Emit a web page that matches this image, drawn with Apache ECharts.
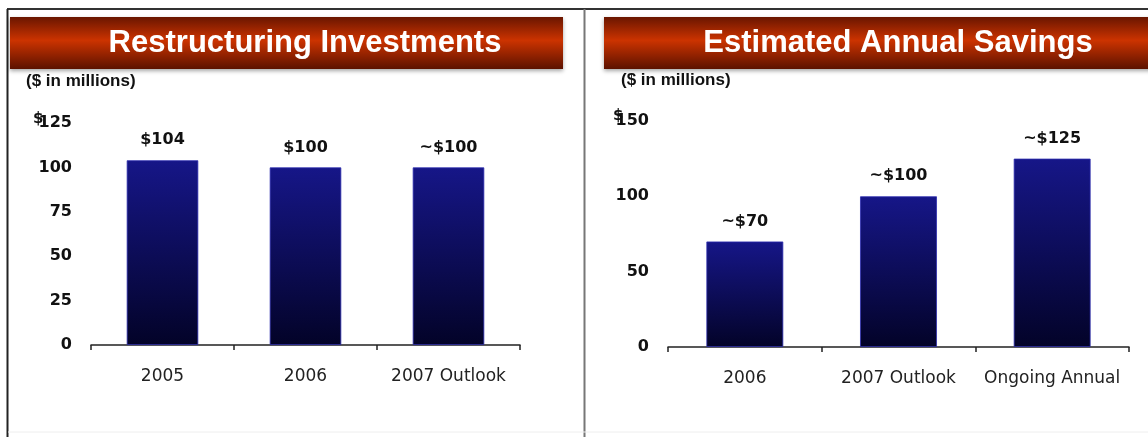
<!DOCTYPE html>
<html>
<head>
<meta charset="utf-8">
<script src="https://cdn.jsdelivr.net/npm/echarts@6/dist/echarts.min.js"></script>
<style>
  html, body { margin: 0; padding: 0; background: #ffffff; }
  #chart { width: 1148px; height: 437px; }
</style>
</head>
<body>
<div id="chart"></div>
<script>
// Restructuring investments ($ in millions)
const investCategories = ['2005', '2006', '2007 Outlook'];
const investValues = [104, 100, 100];
const investLabels = ['$104', '$100', '~$100'];
const investAxis = { min: 0, max: 125, interval: 25 };

// Estimated annual savings ($ in millions)
const savingsCategories = ['2006', '2007 Outlook', 'Ongoing Annual'];
const savingsValues = [70, 100, 125];
const savingsLabels = ['~$70', '~$100', '~$125'];
const savingsAxis = { min: 0, max: 150, interval: 50 };

const chart = echarts.init(document.getElementById('chart'), null, { renderer: 'canvas' });

const barFill = new echarts.graphic.LinearGradient(0, 0, 0, 1, [
  { offset: 0, color: '#161688' },
  { offset: 1, color: '#030328' }
]);
const headerFill = new echarts.graphic.LinearGradient(0, 0, 0, 1, [
  { offset: 0, color: '#6a1600' },
  { offset: 0.45, color: '#cc3300' },
  { offset: 1, color: '#5c1200' }
]);

const valueAxisBase = {
  type: 'value',
  splitLine: { show: false },
  axisLine: { show: false },
  axisTick: { show: false },
  axisLabel: {
    color: '#111',
    fontFamily: 'DejaVu Sans',
    fontWeight: 'bold',
    fontSize: 16,
    margin: 19
  }
};
const categoryAxisBase = {
  type: 'category',
  axisLine: { lineStyle: { color: '#222', width: 1.5 } },
  axisTick: { show: true, length: 5, inside: false, lineStyle: { color: '#222', width: 1.5 } },
  axisLabel: {
    interval: 0,
    color: '#222',
    fontFamily: 'DejaVu Sans',
    fontSize: 17,
    margin: 23
  }
};
const barLabel = (texts) => ({
  show: true,
  position: 'top',
  distance: 12,
  color: '#111',
  fontFamily: 'DejaVu Sans',
  fontWeight: 'bold',
  fontSize: 16,
  formatter: (p) => texts[p.dataIndex]
});

const option = {
  animation: false,
  backgroundColor: '#ffffff',
  grid: [
    { left: 91, top: 123, width: 429, height: 222 },
    { left: 668, top: 121, width: 461, height: 226 }
  ],
  xAxis: [
    Object.assign({}, categoryAxisBase, { gridIndex: 0, data: investCategories }),
    Object.assign({}, categoryAxisBase, { gridIndex: 1, data: savingsCategories })
  ],
  yAxis: [
    Object.assign({}, valueAxisBase, { gridIndex: 0 }, investAxis),
    Object.assign({}, valueAxisBase, { gridIndex: 1 }, savingsAxis)
  ],
  series: [
    {
      type: 'bar', xAxisIndex: 0, yAxisIndex: 0,
      data: investValues, barWidth: '50%',
      itemStyle: { color: barFill, borderColor: '#2c2cae', borderWidth: 0.8 },
      label: barLabel(investLabels)
    },
    {
      type: 'bar', xAxisIndex: 1, yAxisIndex: 1,
      data: savingsValues, barWidth: '50%',
      itemStyle: { color: barFill, borderColor: '#2c2cae', borderWidth: 0.8 },
      label: barLabel(savingsLabels)
    }
  ],
  graphic: [
    // panel frames
    { type: 'line', shape: { x1: 7, y1: 9, x2: 1148, y2: 9 }, style: { stroke: '#333', lineWidth: 2 } },
    { type: 'line', shape: { x1: 7.5, y1: 9, x2: 7.5, y2: 437 }, style: { stroke: '#222', lineWidth: 2 } },
    { type: 'line', shape: { x1: 584.5, y1: 9, x2: 584.5, y2: 437 }, style: { stroke: '#777', lineWidth: 2 } },
    { type: 'line', shape: { x1: 8, y1: 432, x2: 1148, y2: 432 }, style: { stroke: '#eeeeee', lineWidth: 1 } },
    // header banners
    {
      type: 'rect', shape: { x: 10, y: 17, width: 553, height: 52 },
      style: { fill: headerFill, shadowBlur: 4, shadowColor: 'rgba(0,0,0,0.35)', shadowOffsetY: 2 }
    },
    {
      type: 'rect', shape: { x: 604, y: 17, width: 560, height: 52 },
      style: { fill: headerFill, shadowBlur: 4, shadowColor: 'rgba(0,0,0,0.35)', shadowOffsetY: 2 }
    },
    {
      type: 'text', x: 305, y: 43,
      style: { text: 'Restructuring Investments', fill: '#ffffff', font: 'bold 31px "Liberation Sans", Arial, sans-serif', textAlign: 'center', textVerticalAlign: 'middle' }
    },
    {
      type: 'text', x: 898, y: 43,
      style: { text: 'Estimated Annual Savings', fill: '#ffffff', font: 'bold 31px "Liberation Sans", Arial, sans-serif', textAlign: 'center', textVerticalAlign: 'middle' }
    },
    // unit notes
    {
      type: 'text', x: 26, y: 81,
      style: { text: '($ in millions)', fill: '#111', font: 'bold 17px "Liberation Sans", Arial, sans-serif', textVerticalAlign: 'middle' }
    },
    {
      type: 'text', x: 621, y: 80,
      style: { text: '($ in millions)', fill: '#111', font: 'bold 17px "Liberation Sans", Arial, sans-serif', textVerticalAlign: 'middle' }
    }
  ]
};

chart.setOption(option);

// currency sign tucked against the top tick of each value axis
const topLeft = chart.convertToPixel({ yAxisIndex: 0 }, investAxis.max);
const topRight = chart.convertToPixel({ yAxisIndex: 1 }, savingsAxis.max);
chart.setOption({
  graphic: [
    {
      type: 'text', id: 'dollarLeft', x: 33, y: topLeft - 4,
      style: { text: '$', fill: '#111', font: 'bold 15px "DejaVu Sans", sans-serif', textVerticalAlign: 'middle' }
    },
    {
      type: 'text', id: 'dollarRight', x: 613, y: topRight - 5,
      style: { text: '$', fill: '#111', font: 'bold 15px "DejaVu Sans", sans-serif', textVerticalAlign: 'middle' }
    }
  ]
});
</script>
</body>
</html>
